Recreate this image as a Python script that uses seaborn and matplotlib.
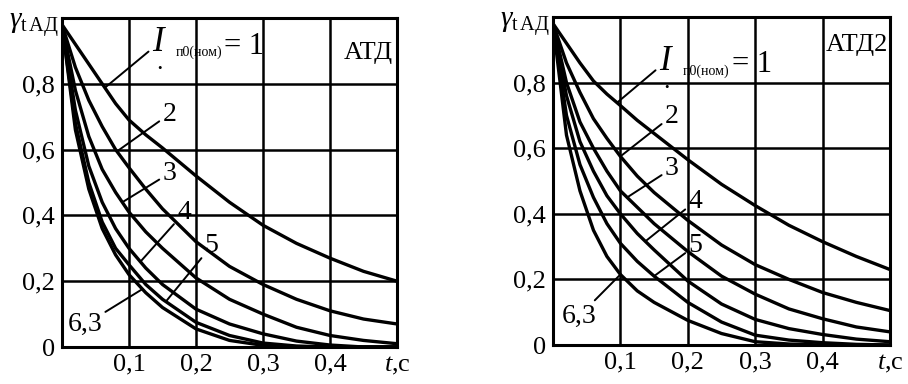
import numpy as np
import pandas as pd
import matplotlib
matplotlib.use("Agg")
import matplotlib.pyplot as plt
import seaborn as sns

# time points, s
t_pts = [0, 0.02, 0.04, 0.06, 0.08, 0.1, 0.125, 0.15, 0.2, 0.25, 0.3, 0.35, 0.4, 0.45, 0.5]
currents = ["1", "2", "3", "4", "5", "6,3"]

# АТД
atd_1 = [0.98, 0.92, 0.86, 0.80, 0.74, 0.69, 0.645, 0.605, 0.52, 0.44, 0.37, 0.315, 0.27, 0.23, 0.20]
atd_2 = [0.98, 0.85, 0.75, 0.67, 0.60, 0.545, 0.48, 0.42, 0.32, 0.245, 0.19, 0.145, 0.11, 0.085, 0.07]
atd_3 = [0.98, 0.78, 0.64, 0.54, 0.47, 0.41, 0.35, 0.30, 0.21, 0.145, 0.10, 0.06, 0.035, 0.02, 0.01]
atd_4 = [0.98, 0.72, 0.55, 0.44, 0.36, 0.30, 0.24, 0.19, 0.115, 0.07, 0.04, 0.018, 0.006, 0.0, 0.0]
atd_5 = [0.98, 0.68, 0.50, 0.38, 0.30, 0.25, 0.19, 0.145, 0.075, 0.035, 0.012, 0.003, 0.0, 0.0, 0.0]
atd_6 = [0.98, 0.66, 0.48, 0.36, 0.28, 0.22, 0.165, 0.12, 0.055, 0.02, 0.005, 0.0, 0.0, 0.0, 0.0]

# АТД2
atd2_1 = [0.98, 0.92, 0.86, 0.805, 0.765, 0.73, 0.685, 0.645, 0.565, 0.49, 0.425, 0.365, 0.315, 0.27, 0.23]
atd2_2 = [0.98, 0.86, 0.77, 0.69, 0.63, 0.575, 0.515, 0.465, 0.38, 0.305, 0.245, 0.20, 0.16, 0.13, 0.105]
atd2_3 = [0.98, 0.80, 0.68, 0.60, 0.53, 0.47, 0.42, 0.37, 0.285, 0.21, 0.155, 0.11, 0.08, 0.055, 0.04]
atd2_4 = [0.98, 0.76, 0.62, 0.53, 0.455, 0.40, 0.34, 0.29, 0.195, 0.125, 0.078, 0.05, 0.032, 0.018, 0.01]
atd2_5 = [0.98, 0.70, 0.55, 0.45, 0.37, 0.31, 0.255, 0.21, 0.13, 0.07, 0.03, 0.015, 0.007, 0.002, 0.0]
atd2_6 = [0.98, 0.64, 0.47, 0.35, 0.27, 0.215, 0.165, 0.13, 0.075, 0.035, 0.01, 0.003, 0.0, 0.0, 0.0]

x_ticks = [0.1, 0.2, 0.3, 0.4]
x_labels = ["0,1", "0,2", "0,3", "0,4"]
y_ticks = [0, 0.2, 0.4, 0.6, 0.8]
y_labels = ["0", "0,2", "0,4", "0,6", "0,8"]

sns.set_style("white")
plt.rcParams["font.family"] = ["Liberation Serif", "DejaVu Serif"]
plt.rcParams["text.color"] = "black"
plt.rcParams["mathtext.fontset"] = "custom"
plt.rcParams["mathtext.rm"] = "Liberation Serif"
plt.rcParams["mathtext.it"] = "Liberation Serif:italic"

fig = plt.figure(figsize=(9.08, 3.84), dpi=100)
ax1 = fig.add_axes([62 / 908, 37 / 384, 335 / 908, 329 / 384])
ax2 = fig.add_axes([553 / 908, 39 / 384, 337 / 908, 328 / 384])


def draw_panel(ax, curves):
    df = pd.DataFrame({"t": np.tile(t_pts, len(curves)),
                       "g": np.concatenate(curves),
                       "I": np.repeat(currents, len(t_pts))})
    sns.lineplot(data=df, x="t", y="g", units="I", estimator=None,
                 color="black", lw=2.4, ax=ax)
    ax.set_xlim(0, 0.5)
    ax.set_ylim(0, 1.0)
    ax.set_xticks(x_ticks)
    ax.set_xticklabels(x_labels)
    ax.set_yticks(y_ticks)
    ax.set_yticklabels(y_labels)
    for v in x_ticks:
        ax.axvline(v, color="black", lw=1.8, zorder=1)
    for v in y_ticks[1:]:
        ax.axhline(v, color="black", lw=1.8, zorder=1)
    ax.tick_params(length=0, labelsize=19, pad=5, colors="black")
    for s in ax.spines.values():
        s.set_color("black")
        s.set_linewidth(2.2)
    ax.set_xlabel("")
    ax.set_ylabel("")
    ax.text(0.5, -0.025, "$t$,c", fontsize=19, ha="center", va="top",
            transform=ax.get_xaxis_transform(), clip_on=False)
    ax.text(-0.01, 1.02, r"$\gamma_{\mathrm{t\,АД}}$", fontsize=21,
            ha="right", va="top", transform=ax.get_yaxis_transform())


draw_panel(ax1, [atd_1, atd_2, atd_3, atd_4, atd_5, atd_6])
draw_panel(ax2, [atd2_1, atd2_2, atd2_3, atd2_4, atd2_5, atd2_6])

ax1.text(0.494, 0.895, "АТД", fontsize=19, ha="right", va="center")
ax2.text(0.497, 0.915, "АТД2", fontsize=19, ha="right", va="center")


def leader(ax, curve, t_at, text_xy, label, size=20, **kw):
    y_at = np.interp(t_at, t_pts, curve)
    ax.annotate(label, xy=(t_at, y_at), xytext=text_xy, fontsize=size,
                color="black",
                arrowprops=dict(arrowstyle="-", color="black", lw=1.4,
                                shrinkA=0, shrinkB=0), **kw)


def current_label(ax, curve, t_at, x0, y0):
    leader(ax, curve, t_at, (x0, y0), "$I$", size=25, ha="left", va="bottom")
    ax.text(x0 + 0.011, y0 - 0.03, "•", fontsize=9, ha="center", va="center")
    ax.text(x0 + 0.036, y0 + 0.0, "п0(ном)", fontsize=10, ha="left", va="bottom")
    ax.text(x0 + 0.108, y0 - 0.005, "= 1", fontsize=22, ha="left", va="bottom")


# АТД labels
current_label(ax1, atd_1, 0.064, 0.134, 0.875)
leader(ax1, atd_2, 0.082, (0.15, 0.67), "2", ha="left", va="bottom")
leader(ax1, atd_3, 0.09, (0.15, 0.49), "3", ha="left", va="bottom")
leader(ax1, atd_4, 0.117, (0.172, 0.37), "4", ha="left", va="bottom")
leader(ax1, atd_5, 0.155, (0.213, 0.27), "5", ha="left", va="bottom")
leader(ax1, atd_6, 0.12, (0.008, 0.03), "6,3", ha="left", va="bottom")

# АТД2 labels
current_label(ax2, atd2_1, 0.095, 0.157, 0.815)
leader(ax2, atd2_2, 0.1, (0.166, 0.66), "2", ha="left", va="bottom")
leader(ax2, atd2_3, 0.11, (0.166, 0.5), "3", ha="left", va="bottom")
leader(ax2, atd2_4, 0.137, (0.201, 0.4), "4", ha="left", va="bottom")
leader(ax2, atd2_5, 0.15, (0.201, 0.265), "5", ha="left", va="bottom")
leader(ax2, atd2_6, 0.1, (0.013, 0.05), "6,3", ha="left", va="bottom")

fig.savefig("out.png", dpi=100)
